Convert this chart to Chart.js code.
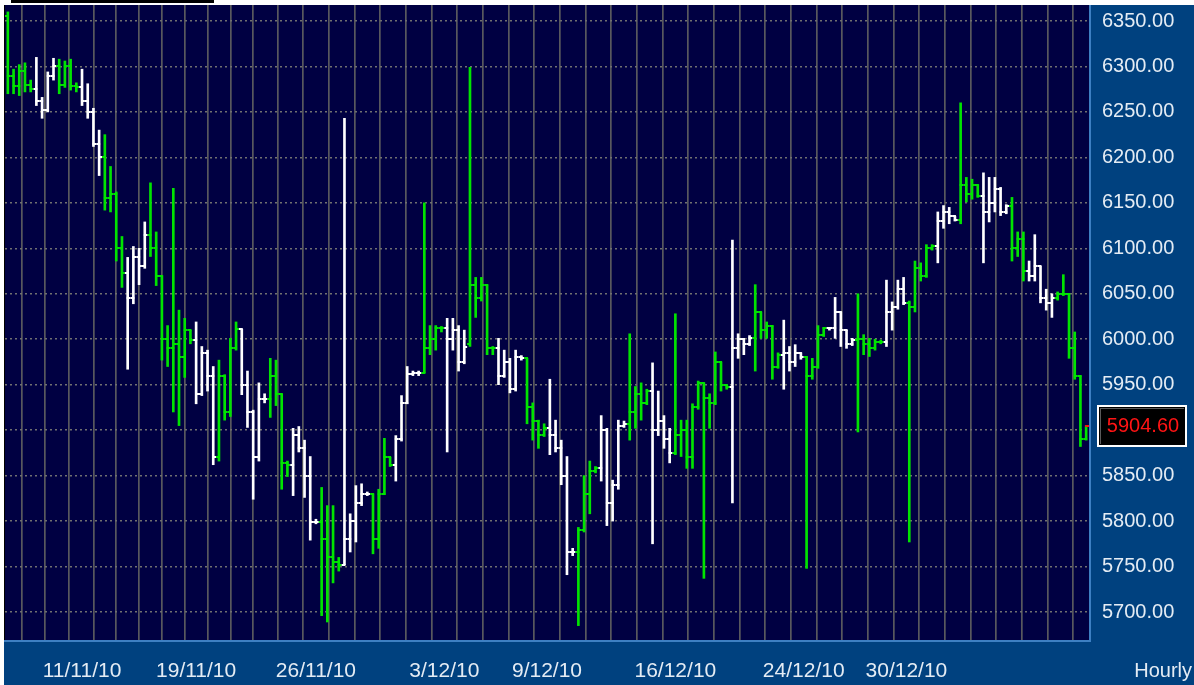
<!DOCTYPE html>
<html><head><meta charset="utf-8">
<script src="https://cdn.jsdelivr.net/npm/chart.js@4.4.0/dist/chart.umd.min.js"></script>
<style>html,body{margin:0;padding:0;background:#fff;overflow:hidden}canvas{display:block}</style>
</head><body><canvas id="c" width="1194" height="685"></canvas>
<script>
// Hourly OHLC (each bar = 2 hourly slots), trend 1 = up (green), 0 = down (white)
const opens=[6355,6290,6278,6295,6280,6275,6262,6252,6290,6300,6280,6300,6278,6277,6262,6250,6215,6200,6155,6160,
6100,6073,6045,6090,6080,6115,6100,6070,6000,5990,5995,5980,6010,5999,5940,5985,5960,5870,5960,5920,
5990,6011,5950,5920,5870,5934,5934,5960,5940,5864,5862,5895,5880,5850,5799,5799,5780,5760,5755,5752,
5780,5800,5820,5830,5830,5780,5830,5870,5862,5890,5930,5962,5963,5963,5990,6000,6012,6012,6000,6010,
5975,5995,6060,6045,6060,5990,5990,5960,5975,5945,5980,5979,5925,5910,5895,5902,5895,5880,5850,5766,
5766,5790,5830,5855,5858,5900,5820,5840,5905,5907,5920,5940,5930,5943,5900,5910,5890,5875,5895,5900,
5870,5925,5952,5935,5930,5975,5950,5947,5990,6000,5995,6001,6030,6010,6015,5970,5983,5985,5975,5985,
5981,5960,5970,6005,6012,6012,6030,6010,5995,5999,6000,5995,5990,5997,5997,6030,6035,6055,6040,6035,
6078,6070,6100,6102,6130,6140,6135,6131,6170,6160,6170,6158,6140,6150,6165,6140,6147,6100,6110,6075,
6070,6080,6045,6040,6045,6050,6050,5990,5960,5890];
const highs=[6360,6297,6302,6304,6285,6310,6266,6294,6309,6308,6306,6308,6282,6297,6281,6254,6230,6225,6190,6162,
6113,6090,6102,6100,6129,6172,6118,6070,6015,6166,6032,6023,6010,6019,5992,5988,5970,5977,5961,6001,
6019,6011,5965,5922,5952,5940,5979,5977,5940,5866,5902,5904,5889,5871,5802,5837,5817,5817,5760,6243,
5808,5839,5841,5832,5830,5835,5891,5870,5894,5938,5970,5965,5965,6150,6015,6015,6014,6023,6023,6015,
6010,6299,6068,6068,6060,5992,6001,5988,5979,5988,5982,5979,5930,5911,5907,5956,5911,5889,5871,5770,
5793,5850,5866,5860,5916,5902,5845,5911,5910,6006,5948,5952,5945,5974,5943,5916,5902,6028,5911,5911,
5929,5954,5952,5940,5986,5975,5950,6109,6006,6001,6004,6060,6030,6019,6015,5985,6021,5992,5994,5985,
5981,5979,6015,6013,6013,6046,6030,6010,6001,6050,6005,6001,6000,5999,6065,6041,6065,6068,6042,6086,
6084,6104,6104,6140,6147,6145,6135,6260,6178,6176,6170,6183,6178,6178,6167,6148,6156,6118,6118,6086,
6115,6080,6055,6050,6052,6071,6050,6008,5960,5905];
const lows=[6270,6270,6268,6272,6272,6257,6243,6250,6285,6270,6277,6274,6272,6257,6243,6212,6180,6142,6140,6086,
6057,5967,6039,6060,6078,6091,6059,5977,5970,5920,5905,5958,5995,5929,5938,5943,5862,5866,5911,5915,
5988,5939,5903,5824,5866,5930,5914,5927,5835,5849,5828,5876,5826,5779,5797,5696,5689,5732,5745,5752,
5766,5777,5817,5828,5764,5770,5829,5860,5844,5888,5929,5960,5960,5963,5983,5988,6008,5876,5988,5965,
5973,5992,6024,6042,5983,5983,5950,5958,5941,5943,5977,5907,5889,5880,5893,5873,5876,5840,5741,5762,
5685,5788,5808,5853,5844,5795,5800,5835,5903,5889,5902,5911,5928,5775,5894,5880,5864,5873,5871,5858,
5858,5923,5737,5902,5928,5943,5945,5820,5979,5983,5993,5965,6001,6001,5956,5968,5945,5965,5970,5978,
5748,5956,5968,6003,6010,6001,5992,5990,5993,5898,5983,5981,5988,5995,5992,6010,6033,6038,5777,6030,
6064,6068,6098,6084,6122,6127,6130,6127,6151,6154,6156,6084,6129,6140,6136,6138,6086,6091,6064,6064,
6064,6040,6032,6024,6043,6048,5979,5956,5882,5889];
const closes=[6290,6278,6295,6280,6275,6262,6252,6290,6300,6280,6300,6278,6277,6262,6250,6215,6200,6155,6160,6100,
6073,6045,6090,6080,6115,6100,6070,6000,5990,5995,5980,6010,5999,5940,5985,5960,5870,5960,5920,5990,
6011,5950,5920,5870,5934,5934,5960,5940,5864,5862,5895,5880,5850,5799,5799,5780,5760,5755,5752,5780,
5800,5820,5830,5830,5780,5830,5870,5862,5890,5930,5962,5963,5963,5990,6000,6012,6012,6000,6010,5975,
5992,6060,6045,6060,5990,5990,5960,5975,5945,5980,5979,5925,5910,5895,5902,5895,5880,5850,5766,5766,
5790,5830,5855,5858,5900,5820,5840,5905,5907,5920,5940,5930,5943,5900,5910,5890,5875,5895,5900,5870,
5925,5952,5935,5930,5975,5950,5947,5990,6000,5995,6001,6030,6010,6015,5970,5983,5985,5975,5985,5981,
5960,5970,6005,6012,6012,6030,6010,5995,5999,6000,5995,5990,5997,5997,6030,6035,6055,6040,6035,6078,
6070,6100,6102,6130,6140,6135,6131,6170,6160,6170,6158,6140,6150,6165,6140,6147,6100,6110,6075,6070,
6080,6045,6040,6045,6050,6050,5990,5960,5890,5904.60];
const trend=[1,1,1,1,1,0,0,0,0,1,1,1,1,0,0,0,0,1,1,1,
1,0,0,0,0,1,1,1,1,1,1,1,1,0,0,0,0,1,1,1,
1,0,0,0,0,0,1,1,1,1,0,0,0,0,0,1,1,1,1,0,
0,0,0,0,1,1,1,1,0,0,0,0,0,1,1,1,1,0,0,0,
0,1,1,1,1,1,0,0,0,0,0,1,1,1,1,0,0,0,0,0,
1,1,1,1,0,0,0,0,0,1,1,1,1,0,0,0,0,1,1,1,
1,1,1,1,1,1,1,0,0,0,0,1,1,1,1,1,0,0,0,0,
1,1,1,1,0,0,0,0,0,1,1,1,1,1,0,0,0,0,1,1,
1,1,1,0,0,0,0,1,1,1,1,0,0,0,0,0,1,1,1,0,
0,0,0,0,1,1,1,1,1,1];
// hourly slots per trading day (first and last partial)
const dayHours=[10,8,9,8,8,8,8,8,8,8,8,9,9,9,9,9,9,9,9,9,9,9,9,9,9,9,9,9,9,9,9,9,9,9,9,9,9,9,9,9,9,9,10];
const xLabels=['11/11/10','19/11/10','26/11/10','3/12/10','9/12/10','16/12/10','24/12/10','30/12/10'];
const xLabelDay=[3,8,13,18,22,27,32,36];
const yTicks=[5700,5750,5800,5850,5900,5950,6000,6050,6100,6150,6200,6250,6300,6350];
const lastPrice=5904.60;
const periodLabel='Hourly';

const GREEN='#00e400', WHITE='#ffffff';
const FONT='"Liberation Sans", Arial, sans-serif';
const TXT='#e4ecf4';

const dayStarts=[]; {let s=0; for(let d=0; d<dayHours.length-1; d++){ s+=dayHours[d]; dayStarts.push(s);} }
const totalSlots=dayHours.reduce((a,b)=>a+b,0);
const labelAt={}; xLabelDay.forEach((d,k)=>{ labelAt[dayStarts[d-1]]=xLabels[k]; });
const barX=i=>2*i+1;
const colorOf=i=>trend[i]?GREEN:WHITE;

const bgPlugin={id:'bg',beforeDraw(c){
  const g=c.ctx,a=c.chartArea,W=c.width,H=c.height;
  g.save();
  g.fillStyle='#ffffff'; g.fillRect(0,0,W,H);
  g.fillStyle='#00417f'; g.fillRect(a.right,5,W-a.right,H-5); g.fillRect(4,a.bottom,W-4,H-a.bottom);
  g.fillStyle='#000042'; g.fillRect(a.left,a.top,a.right-a.left,a.bottom-a.top);
  g.fillStyle='#000000'; g.fillRect(4,a.top,1,a.bottom-a.top); g.fillRect(11,0,203,3);
  g.fillStyle='#3d7fc2'; g.fillRect(4,a.bottom,a.right-2,2); g.fillRect(a.right,a.top,2,a.bottom-a.top+2);
  g.restore();
}};
const tickPlugin={id:'ohlcTicks',afterDatasetsDraw(c){
  const g=c.ctx,xs=c.scales.x,ys=c.scales.y,a=c.chartArea;
  const half=(xs.getPixelForValue(2)-xs.getPixelForValue(0))/2;
  g.save(); g.beginPath(); g.rect(a.left,a.top,a.right-a.left,a.bottom-a.top); g.clip();
  g.lineWidth=2;
  for(let i=0;i<opens.length;i++){
    const x=xs.getPixelForValue(barX(i));
    const yo=Math.round(ys.getPixelForValue(opens[i]));
    const yc=Math.round(ys.getPixelForValue(closes[i]));
    g.strokeStyle=colorOf(i);
    g.beginPath(); g.moveTo(x-half,yo); g.lineTo(x+1,yo); g.stroke();
    g.strokeStyle=(i===opens.length-1)?'#ff1010':colorOf(i);
    g.beginPath(); g.moveTo(x-1,yc); g.lineTo(x+half,yc); g.stroke();
  }
  g.restore();
}};
const labelPlugin={id:'labels',afterDraw(c){
  const g=c.ctx,ys=c.scales.y;
  const y=ys.getPixelForValue(lastPrice);
  g.save();
  const bx=1097,bw=90,bh=42,by=Math.round(y-bh/2);
  g.fillStyle='#ffffff'; g.fillRect(bx,by,bw,bh);
  g.fillStyle='#000000'; g.fillRect(bx+2,by+2,bw-4,bh-4);
  g.fillStyle='#5a5a5a'; g.fillRect(bx+3,by+3,bw-6,1); g.fillRect(bx+3,by+3,1,bh-6);
  g.font='20px '+FONT; g.fillStyle='#ff1414'; g.textAlign='center'; g.textBaseline='middle';
  g.fillText(lastPrice.toFixed(2),bx+bw/2+1,y+1);
  g.fillStyle=TXT; g.textAlign='right'; g.textBaseline='alphabetic';
  g.fillText(periodLabel,1192,677);
  g.restore();
}};

new Chart(document.getElementById('c'),{
  type:'bar',
  data:{datasets:[{
    data:opens.map((_,i)=>({x:barX(i),y:[lows[i],highs[i]]})),
    backgroundColor:opens.map((_,i)=>colorOf(i)),
    borderWidth:0, barThickness:2, grouped:false
  }]},
  options:{
    responsive:false, animation:false, devicePixelRatio:1,
    layout:{padding:{left:5,top:5,right:0,bottom:0}},
    plugins:{legend:{display:false},tooltip:{enabled:false}},
    scales:{
      x:{type:'linear',min:0,max:totalSlots,offset:false,
        afterBuildTicks:s=>{s.ticks=dayStarts.map(v=>({value:v}));},
        afterFit:s=>{s.height=45;s.paddingLeft=0;s.paddingRight=0;s.paddingTop=0;s.paddingBottom=0;},
        grid:{color:'#58585e',lineWidth:1.7,drawTicks:false},
        border:{display:false},
        ticks:{autoSkip:false,maxRotation:0,padding:19,color:TXT,font:{family:FONT,size:21},
          callback:v=>labelAt[v]||''}
      },
      y:{type:'linear',position:'right',min:5669.2,max:6367.6,
        afterBuildTicks:s=>{s.ticks=yTicks.map(v=>({value:v}));},
        afterFit:s=>{s.width=105;s.paddingTop=0;s.paddingBottom=0;s.paddingLeft=0;s.paddingRight=0;},
        grid:{color:'#707070',lineWidth:1.5,drawTicks:false},
        border:{display:false,dash:[2,3]},
        ticks:{padding:13,color:TXT,font:{family:FONT,size:20},callback:v=>Number(v).toFixed(2)}
      }
    }
  },
  plugins:[bgPlugin,tickPlugin,labelPlugin]
});
</script></body></html>
